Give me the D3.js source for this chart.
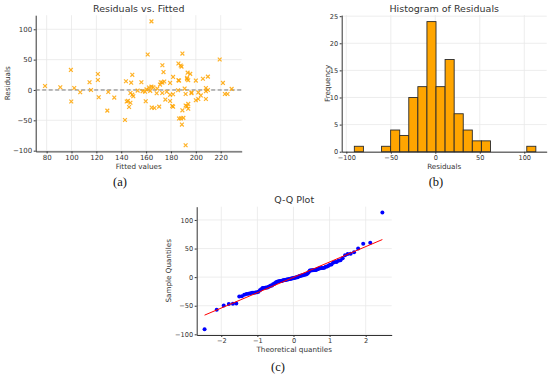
<!DOCTYPE html>
<html>
<head>
<meta charset="utf-8">
<script src="https://cdn.jsdelivr.net/npm/d3@7"></script>
<style>
  body { margin: 0; background: #fff; }
  svg { display: block; font-family: "DejaVu Sans", sans-serif; }
  .tick text { fill: #333; }
</style>
</head>
<body>
<div id="chart"></div>
<script>
// fitted values and residuals of the model
const fitted = [
  191.8, 188.8, 143, 186.5, 188, 190, 128.8, 189.2, 193.9,
  146.3, 164.5, 166.7, 170.5, 181, 181.7, 191.8, 192.9, 193.9, 147.4,
  99.8, 121.9, 134.4, 144.4, 145.4, 149.7, 159.7, 175.5, 179.3, 202, 208.1, 200,
  115.7, 107, 129.6, 147.4, 148.9, 185.7, 209.7, 168.5, 173, 191.8, 196.5, 223.4,
  225.5, 208.1, 196.5, 176.6, 179.3, 153.2, 157.2, 159.2, 163.3, 181.7, 202, 204,
  78.7, 91, 102.2, 162.3, 165.8, 169, 171.2, 191, 208.1, 228.8, 160.3, 164.3,
  121.2, 114.5, 143.8, 148, 156.2, 171.8, 174.6, 179.3, 186.5, 186, 193, 193.9,
  200, 205.7, 221.8, 192.9, 173.1,
  121.2, 148.9, 174, 193.4, 195.5, 209.7, 181.7,
  99.5, 173.1, 187.8, 188.5, 186, 219.2, 161.3, 189.2, 164.3
];
const residuals = [
  -91, -57, -49.5, -47, -46.7, -46, -34, -33.5, -31,
  -28, -29, -29.7, -27.4, -26.4, -27.5, -25.7, -27, -23, -21,
  -19, -12, -12.5, -19, -18, -10.4, -18.6, -15.8, -18.1, -14.8, -14.8, -17,
  0, -3.8, -3.3, -5, -7.7, -0.5, 0, -5.4, -5, -6.6, -5.4, -6.6,
  -6.6, -2, -4, -3, -8, -1, -2, -3, -1.5, -7, -4, -9,
  6.6, 4.5, 3.3, 4, 4.5, 2.3, 8.9, 2.3, 3.3, 1.7, 1, 5.5,
  16.5, 12.7, 14.4, 12, 12.7, 12.7, 13.9, 11.6, 15.5, 16, 18, 16,
  15.5, 18.5, 11.6, 20, 12.2,
  26.4, 25, 29.5, 28.5, 26.5, 22, 21.5,
  33, 40.8, 40.3, 38.5, 43.6, 50.2, 58.4, 60, 113
];

const fittedTicks = [80, 100, 120, 140, 160, 180, 200, 220];
const residualTicks = [-100, -50, 0, 50, 100];
const freqTicks = [0, 5, 10, 15, 20, 25];
const quantileTicks = [-2, -1, 0, 1, 2];
const binCount = 20;

const width = 550, height = 377;
const orange = "#ffa500";
const fmt = d3.format("~g");

const svg = d3.select("#chart")
  .append("svg")
  .attr("width", width)
  .attr("height", height);

// grid + left/bottom spines + ticks for one panel
function frame(x, y, xTicks, yTicks, fs) {
  const g = svg.append("g");
  const [x0, x1] = x.range();
  const [y0, y1] = y.range();

  g.append("g").selectAll("line")
    .data(xTicks).join("line")
    .attr("x1", d => x(d)).attr("x2", d => x(d))
    .attr("y1", y0).attr("y2", y1)
    .attr("stroke", "#e8e8e8").attr("stroke-width", 0.8);
  g.append("g").selectAll("line")
    .data(yTicks).join("line")
    .attr("x1", x0).attr("x2", x1)
    .attr("y1", d => y(d)).attr("y2", d => y(d))
    .attr("stroke", "#e8e8e8").attr("stroke-width", 0.8);

  const xa = g.append("g")
    .attr("transform", `translate(0,${y0})`)
    .call(d3.axisBottom(x).tickValues(xTicks).tickFormat(fmt)
      .tickSize(2).tickPadding(1.5).tickSizeOuter(0));
  const ya = g.append("g")
    .attr("transform", `translate(${x0},0)`)
    .call(d3.axisLeft(y).tickValues(yTicks).tickFormat(fmt)
      .tickSize(2).tickPadding(1.5).tickSizeOuter(0));
  [xa, ya].forEach(a => {
    a.attr("font-family", null).attr("font-size", fs);
    a.select(".domain").attr("stroke", "#333");
    a.selectAll(".tick line").attr("stroke", "#333");
  });
  return g;
}

function label(txt, x, y, size, rotate) {
  const t = svg.append("text")
    .attr("text-anchor", "middle")
    .attr("font-size", size)
    .attr("fill", "#333")
    .text(txt);
  if (rotate) t.attr("transform", `translate(${x},${y}) rotate(-90)`);
  else t.attr("x", x).attr("y", y);
  return t;
}

function caption(txt, x, y) {
  svg.append("text")
    .attr("x", x).attr("y", y)
    .attr("text-anchor", "middle")
    .attr("font-family", "'Liberation Serif', serif")
    .attr("font-size", 12.5)
    .attr("fill", "#111")
    .text(txt);
}

// (a) residuals vs fitted
{
  const x = d3.scaleLinear().domain([71.2, 236.9]).range([35.7, 241.7]);
  const y = d3.scaleLinear().domain([-101.2, 123.2]).range([151.4, 15.2]);
  const g = frame(x, y, fittedTicks, residualTicks, 7);

  g.append("line")
    .attr("x1", x.range()[0]).attr("x2", x.range()[1])
    .attr("y1", y(0)).attr("y2", y(0))
    .attr("stroke", "#777").attr("stroke-width", 1)
    .attr("stroke-dasharray", "4,2.5");

  const s = 1.9;
  g.append("g").selectAll("path")
    .data(d3.zip(fitted, residuals)).join("path")
    .attr("transform", d => `translate(${x(d[0])},${y(d[1])})`)
    .attr("d", `M${-s},${-s}L${s},${s}M${-s},${s}L${s},${-s}`)
    .attr("stroke", orange).attr("stroke-width", 1.2)
    .attr("opacity", 0.85).attr("fill", "none");

  label("Residuals vs. Fitted", 138.7, 12, 9.5);
  label("Fitted values", 138.7, 168.5, 7.2);
  label("Residuals", 10, 83.3, 7.2, true);
  caption("(a)", 120, 186);
}

// (b) histogram of residuals
{
  const x = d3.scaleLinear().domain([-105.2, 125.2]).range([341.7, 546.7]);
  const y = d3.scaleLinear().domain([0, 25.2]).range([151.7, 15.1]);
  const g = frame(x, y, residualTicks, freqTicks, 6.6);

  const [lo, hi] = d3.extent(residuals);
  const step = (hi - lo) / binCount;
  const edges = d3.range(1, binCount).map(i => lo + i * step);
  const bins = d3.bin().domain([lo, hi]).thresholds(edges)(residuals);

  g.append("g").selectAll("rect")
    .data(bins.filter(b => b.length > 0)).join("rect")
    .attr("x", d => x(d.x0))
    .attr("width", d => x(d.x1) - x(d.x0))
    .attr("y", d => y(d.length))
    .attr("height", d => y(0) - y(d.length))
    .attr("fill", orange)
    .attr("stroke", "#2a2a2a").attr("stroke-width", 0.9);

  g.selectAll(".domain").raise();

  label("Histogram of Residuals", 444.2, 12, 9.5);
  label("Residuals", 444.2, 168.5, 7.2);
  label("Frequency", 329.5, 83.4, 7.2, true);
  caption("(b)", 436, 186);
}

// (c) normal Q-Q plot of the residuals (Filliben plotting positions)
{
  function normInv(p) {
    const a = [-3.969683028665376e+01, 2.209460984245205e+02, -2.759285104469687e+02,
               1.383577518672690e+02, -3.066479806614716e+01, 2.506628277459239e+00];
    const b = [-5.447609879822406e+01, 1.615858368580409e+02, -1.556989798598866e+02,
               6.680131188771972e+01, -1.328068155288572e+01];
    const c = [-7.784894002430293e-03, -3.223964580411365e-01, -2.400758277161838e+00,
               -2.549732539343734e+00, 4.374664141464968e+00, 2.938163982698783e+00];
    const d = [7.784695709041462e-03, 3.224671290700398e-01, 2.445134137142996e+00,
               3.754408661907416e+00];
    const pl = 0.02425;
    if (p < pl) {
      const q = Math.sqrt(-2 * Math.log(p));
      return (((((c[0]*q+c[1])*q+c[2])*q+c[3])*q+c[4])*q+c[5]) /
             ((((d[0]*q+d[1])*q+d[2])*q+d[3])*q+1);
    }
    if (p > 1 - pl) return -normInv(1 - p);
    const q = p - 0.5, r = q * q;
    return (((((a[0]*r+a[1])*r+a[2])*r+a[3])*r+a[4])*r+a[5])*q /
           (((((b[0]*r+b[1])*r+b[2])*r+b[3])*r+b[4])*r+1);
  }

  const n = residuals.length;
  const sample = residuals.slice().sort(d3.ascending);
  const theo = d3.range(n).map(i => {
    let m;
    if (i === n - 1) m = Math.pow(0.5, 1 / n);
    else if (i === 0) m = 1 - Math.pow(0.5, 1 / n);
    else m = (i + 1 - 0.3175) / (n + 0.365);
    return normInv(m);
  });
  const mx = d3.mean(theo), my = d3.mean(sample);
  const slope = d3.sum(theo, (t, i) => (t - mx) * (sample[i] - my)) /
                d3.sum(theo, t => (t - mx) * (t - mx));
  const icpt = my - slope * mx;

  const x = d3.scaleLinear().domain([-2.68, 2.72]).range([196.7, 391.7]);
  const y = d3.scaleLinear().domain([-101.2, 123.2]).range([335, 206.7]);
  const g = frame(x, y, quantileTicks, residualTicks, 6.6);

  g.append("g").selectAll("circle")
    .data(d3.zip(theo, sample)).join("circle")
    .attr("cx", d => x(d[0])).attr("cy", d => y(d[1]))
    .attr("r", 2)
    .attr("fill", "#0000ff");

  const ends = d3.extent(theo);
  g.append("line")
    .attr("x1", x(ends[0])).attr("y1", y(icpt + slope * ends[0]))
    .attr("x2", x(ends[1])).attr("y2", y(icpt + slope * ends[1]))
    .attr("stroke", "#ff0000").attr("stroke-width", 1);

  label("Q-Q Plot", 294.2, 203, 9.5);
  label("Theoretical quantiles", 294.2, 352, 7.2);
  label("Sample Quantiles", 170.5, 270.8, 7.2, true);
  caption("(c)", 278, 371);
}
</script>
</body>
</html>
